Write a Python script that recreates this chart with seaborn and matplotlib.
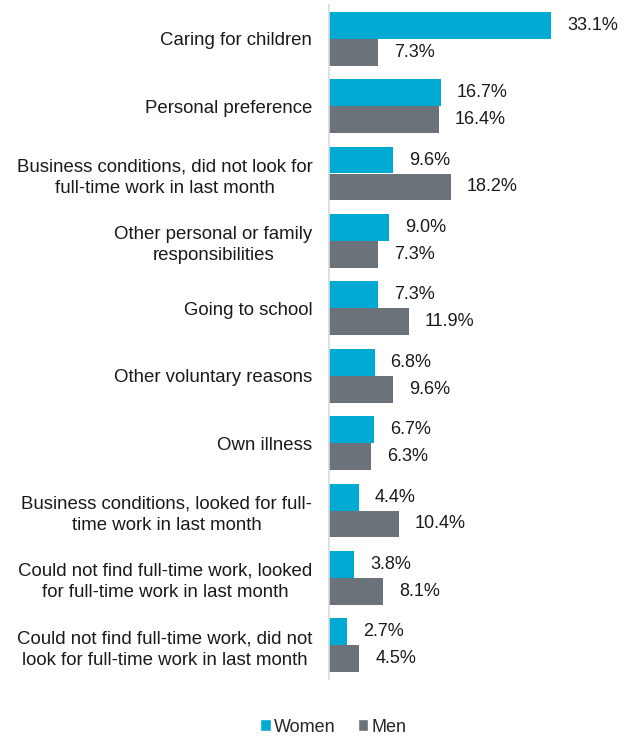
import matplotlib
matplotlib.use("Agg")
import matplotlib.pyplot as plt
import seaborn as sns
import pandas as pd
from matplotlib.patches import Patch

reasons = [
    "Caring for children",
    "Personal preference",
    "Business conditions, did not look for\nfull-time work in last month",
    "Other personal or family\nresponsibilities",
    "Going to school",
    "Other voluntary reasons",
    "Own illness",
    "Business conditions, looked for full-\ntime work in last month",
    "Could not find full-time work, looked\nfor full-time work in last month",
    "Could not find full-time work, did not\nlook for full-time work in last month",
]
women = [33.1, 16.7, 9.6, 9.0, 7.3, 6.8, 6.7, 4.4, 3.8, 2.7]
men = [7.3, 16.4, 18.2, 7.3, 11.9, 9.6, 6.3, 10.4, 8.1, 4.5]
groups = ["Women", "Men"]
colors = {"Women": "#00AAD2", "Men": "#6C727A"}

df = pd.DataFrame({
    "reason": reasons * 2,
    "share": women + men,
    "group": ["Women"] * len(reasons) + ["Men"] * len(reasons),
})

sns.set_style("white")
plt.rcParams["font.family"] = ["Liberation Sans", "DejaVu Sans"]

fig = plt.figure(figsize=(6.29, 7.38), dpi=100)
ax = fig.add_axes([329 / 629, 1 - 679 / 738, 1 - 329 / 629, (679 - 5) / 738])

sns.barplot(data=df, x="share", y="reason", hue="group", order=reasons,
            hue_order=groups, palette=colors, width=0.8, orient="h",
            saturation=1, legend=False, linewidth=0, ax=ax)

for cont in ax.containers:
    ax.bar_label(cont, labels=[f"{v:.1f}%" for v in cont.datavalues],
                 padding=11.5, fontsize=13, color="#1a1a1a")

ax.set_xlim(0, 33.1 * 300 / 222)
ax.set_ylim(len(reasons) - 0.5, -0.5)
ax.set_xlabel("")
ax.set_ylabel("")
ax.set_xticks([])
ax.tick_params(axis="y", length=0, pad=12, labelsize=13.4, labelcolor="#1a1a1a")
for lbl in ax.get_yticklabels():
    lbl.set_horizontalalignment("right")
    lbl.set_multialignment("center")
    lbl.set_linespacing(1.35)
for side in ["top", "right", "bottom"]:
    ax.spines[side].set_visible(False)
ax.spines["left"].set_color("#D9D9D9")
ax.spines["left"].set_linewidth(1.2)

handles = [Patch(facecolor=colors[g], label=g) for g in groups]
fig.legend(handles=handles, loc="center", bbox_to_anchor=(0.53, 1 - 727 / 738),
           ncol=2, frameon=False, fontsize=13, handlelength=0.6,
           handleheight=0.6, handletextpad=0.2, columnspacing=1.2)

fig.savefig("out.png", dpi=100)
